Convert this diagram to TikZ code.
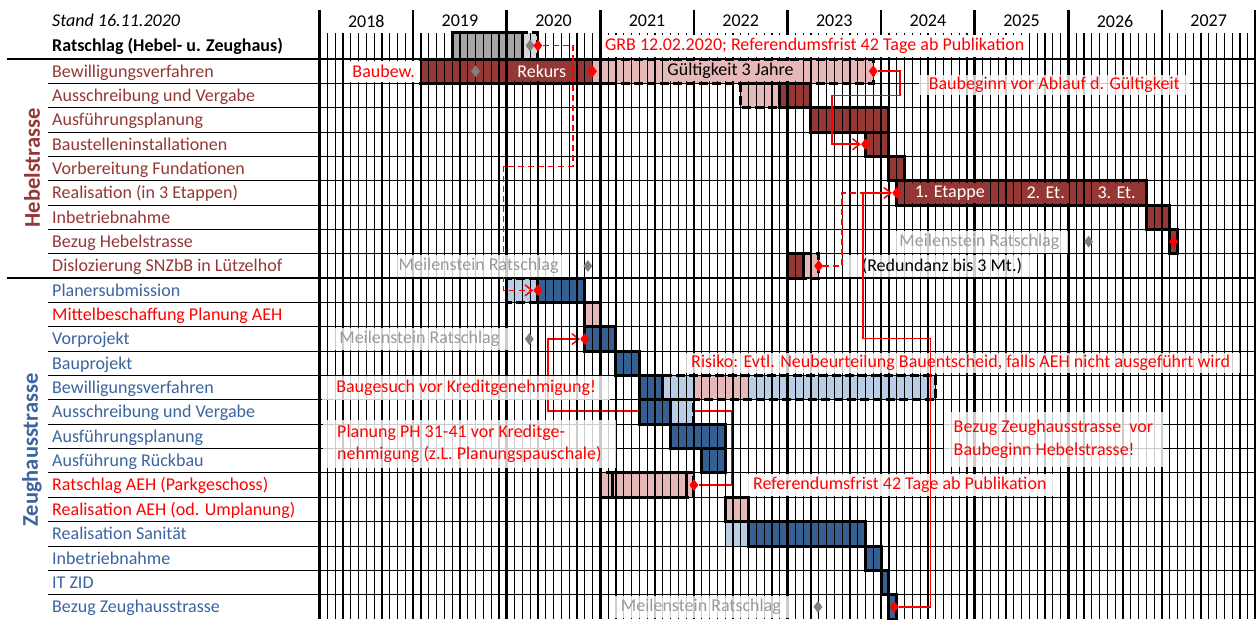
\documentclass[tikz,border=0pt]{standalone}
\usepackage{fontspec}
\setmainfont{Carlito}
\usetikzlibrary{shapes.geometric,arrows.meta}
\pgfdeclarelayer{back}
\pgfdeclarelayer{under}
\pgfdeclarelayer{top}
\pgfsetlayers{back,under,main,top}
\definecolor{dred}{HTML}{953735}
\definecolor{pnk}{HTML}{E6B9B8}
\definecolor{dblue}{HTML}{376092}
\definecolor{tblue}{HTML}{3B64A0}
\definecolor{lblue}{HTML}{B9CDE5}
\definecolor{hgray}{HTML}{A6A6A6}
\definecolor{lgray}{HTML}{D9D9D9}
\definecolor{mgray}{HTML}{9A9A9A}
\definecolor{dgray}{HTML}{808080}
\tikzset{
  every node/.style={font=\fontsize{18}{22}\selectfont, inner sep=0pt},
  fr/.style={draw=black, line width=3pt},
  dfr/.style={draw=black, line width=3pt, dash pattern=on 9pt off 4pt},
  rdia/.style={diamond, fill=red, minimum width=9pt, minimum height=12pt},
  gdia/.style={diamond, fill=dgray, minimum width=9pt, minimum height=12pt},
  conn/.style={draw=red, line width=1.5pt},
  dconn/.style={draw=red, line width=1.5pt, dash pattern=on 6pt off 4pt},
  arr/.style={-{Straight Barb[length=7pt,width=11pt]}},
  note/.style={fill=white, fill opacity=0.8, text opacity=1, text=red, inner xsep=10pt, inner ysep=2pt},
  mile/.style={fill=white, fill opacity=0.8, text opacity=1, text=mgray, inner xsep=9pt, minimum height=22pt},
  onbar/.style={text=white, fill=dred, inner xsep=4pt, minimum height=20pt},
  lab/.style={anchor=base west},
  grp/.style={font=\fontsize{22.5}{26}\selectfont\bfseries, rotate=90},
}
\begin{document}
\begin{tikzpicture}[x=1pt,y=-1pt]
\useasboundingbox (0,0) rectangle (1256,619);
\begin{pgfonlayer}{back}
\fill[white] (0,0) rectangle (1256,619);
\end{pgfonlayer}
% header texts
\node[anchor=base west, font=\fontsize{18}{22}\selectfont\itshape] (stand) at (52,26.5) {Stand 16.11.2020};
\node[anchor=base west, font=\fontsize{18}{22}\selectfont\bfseries] (ratsch) at (52,51) {Ratschlag (Hebel- u. Zeughaus)};
% group labels
\node[grp, text=dred] (gH) at (32,168) {Hebelstrasse};
\node[grp, text=tblue] (gZ) at (32,450) {Zeughausstrasse};
% row labels
\foreach \t/\c [count=\i from 0] in {Bewilligungsverfahren/dred, Ausschreibung und Vergabe/dred, Ausführungsplanung/dred, Baustelleninstallationen/dred, Vorbereitung Fundationen/dred, Realisation (in 3 Etappen)/dred, Inbetriebnahme/dred, Bezug Hebelstrasse/dred, Dislozierung SNZbB in Lützelhof/dred, Planersubmission/tblue, Mittelbeschaffung Planung AEH/red, Vorprojekt/tblue, Bauprojekt/tblue, Bewilligungsverfahren/tblue, Ausschreibung und Vergabe/tblue, Ausführungsplanung/tblue, Ausführung Rückbau/tblue, Ratschlag AEH (Parkgeschoss)/red, Realisation AEH (od. Umplanung)/red, Realisation Sanität/tblue, Inbetriebnahme/tblue, IT ZID/tblue, Bezug Zeughausstrasse/tblue}
  \node[lab, text=\c] (L\i) at (52,{59+24.35*\i+18}) {\t};

\begin{scope}[xshift=319.5pt, yshift=-59pt, x=7.8pt, y=-24.35pt]
% ---------- diamonds (top layer)
\begin{pgfonlayer}{top}
\node[gdia] (hdg) at (27,-0.55) {};
\node[rdia] (hdr) at (28,-0.55) {};
\node[gdia] (g0) at (20,0.5) {};
\node[rdia] (d0a) at (35,0.5) {};
\node[rdia] (d0b) at (71,0.5) {};
\node[rdia] (d3) at (70,3.5) {};
\node[rdia] (d5) at (74,5.5) {};
\node[rdia] (d7) at (109.5,7.5) {};
\node[gdia] (g7) at (98.6,7.5) {};
\node[rdia] (d8) at (64,8.5) {};
\node[gdia] (g8) at (34.4,8.5) {};
\node[rdia] (d9) at (28,9.5) {};
\node[rdia] (d11) at (34,11.5) {};
\node[gdia] (g11) at (26.9,11.5) {};
\node[rdia] (d17) at (48,17.5) {};
\node[rdia] (d22) at (73.7,22.5) {};
\node[gdia] (g22) at (63.9,22.5) {};
\end{pgfonlayer}
% ---------- connector under the bars
\coordinate (k4a) at (52.8,17.5);
\coordinate (k4b) at (52.8,14.46);
\coordinate (k4c) at (29.3,14.46);
\coordinate (k4d) at (29.3,11.5);
\begin{pgfonlayer}{under}
\draw[conn, arr] (d17) -- (k4a) -- (k4b) -- (k4c) -- (k4d) -- (d11);
\end{pgfonlayer}
% ---------- bar fills
\fill[hgray] (17,-1.07) rectangle (26,0);
\fill[lgray] (26,-1.07) rectangle (28,0);
\fill[dred] (13,0) rectangle (35,1);
\fill[pnk] (35,0) rectangle (71,1);
\fill[pnk] (54,1) rectangle (59,2);
\fill[dred] (59,1) rectangle (63,2);
\fill[dred] (63,2) rectangle (73,3);
\fill[dred] (70,3) rectangle (73,4);
\fill[dred] (73,4) rectangle (75,5);
\fill[dred] (74,5) rectangle (106,6);
\fill[dred] (106,6) rectangle (109,7);
\fill[dred] (109,7) rectangle (110,8);
\fill[dred] (60,8) rectangle (62,9);
\fill[pnk] (62,8) rectangle (64,9);
\fill[lblue] (24,9) rectangle (28,10);
\fill[dblue] (28,9) rectangle (34,10);
\fill[pnk] (34,10) rectangle (36,11);
\fill[dblue] (34,11) rectangle (38,12);
\fill[dblue] (38,12) rectangle (41,13);
\fill[dblue] (41,13) rectangle (44,14);
\fill[lblue] (44,13) rectangle (48,14);
\fill[pnk] (48,13) rectangle (55,14);
\fill[lblue] (55,13) rectangle (79,14);
\fill[dblue] (41,14) rectangle (45,15);
\fill[lblue] (45,14) rectangle (48,15);
\fill[dblue] (45,15) rectangle (52,16);
\fill[dblue] (49,16) rectangle (52,17);
\fill[pnk] (36,17) rectangle (48,18);
\fill[pnk] (52,18) rectangle (55,19);
\fill[lblue] (52,19) rectangle (55,20);
\fill[dblue] (55,19) rectangle (70,20);
\fill[dblue] (70,20) rectangle (72,21);
\fill[dblue] (72,21) rectangle (73,22);
\fill[dblue] (73,22) rectangle (74,23);
% ---------- grid
\foreach \k in {1,...,8} \draw[line width=1pt] (-34.8,\k) -- (120,\k);
\foreach \k in {10,...,22} \draw[line width=1pt] (-34.8,\k) -- (120,\k);
\draw[line width=2.5pt] (-40.06,0) -- (120,0);
\draw[line width=2.5pt] (-40.06,9) -- (120,9);
\foreach \m in {0,...,120} \draw[line width=1.2pt] (\m,-1.07) -- (\m,23);
\foreach \y in {0,...,10} \draw[line width=2.5pt] ({12*\y},-2.012) -- ({12*\y},23);
\foreach \y [count=\i from 0] in {2018,...,2027} \node (Y\y) at ({12*\i+6},-1.56) {\y};
% ---------- frames
\draw[fr] (17,-1.07) rectangle (26,0);
\draw[dfr] (26,-1.07) rectangle (28,0);
\draw[dfr] (37,0) -- (71,0) -- (71,1) -- (37,1);
\draw[fr] (37,0) -- (13,0) -- (13,1) -- (37,1);
\draw[dfr] (59,1) -- (54,1) -- (54,2) -- (59,2);
\draw[fr] (59,1) rectangle (63,2);
\draw[fr] (63,2) rectangle (73,3);
\draw[fr] (70,3) rectangle (73,4);
\draw[fr] (73,4) rectangle (75,5);
\draw[fr] (74,5) rectangle (106,6);
\draw[fr] (106,6) rectangle (109,7);
\draw[fr] (109,7) rectangle (110,8);
\draw[fr] (60,8) rectangle (62,9);
\draw[dfr] (62,8) -- (64,8) -- (64,9) -- (62,9);
\draw[dfr] (28,9) -- (24,9) -- (24,10) -- (28,10);
\draw[fr] (28,9) rectangle (34,10);
\draw[fr] (34,10) rectangle (36,11);
\draw[fr] (34,11) rectangle (38,12);
\draw[fr] (38,12) rectangle (41,13);
\draw[fr] (41,13) rectangle (44,14);
\draw[dfr] (44,13) -- (79,13) -- (79,14) -- (44,14);
\draw[fr] (41,14) rectangle (45,15);
\draw[dfr] (45,14) -- (48,14) -- (48,15) -- (45,15);
\draw[fr] (45,15) rectangle (52,16);
\draw[fr] (49,16) rectangle (52,17);
\draw[dfr] (36,17) rectangle (48,18);
\draw[fr] (37.5,17) rectangle (47,18);
\draw[fr] (52,18) rectangle (55,19);
\draw[fr] (55,19) rectangle (70,20);
\draw[fr] (70,20) rectangle (72,21);
\draw[fr] (72,21) rectangle (73,22);
\draw[fr] (73,22) rectangle (74,23);
% ---------- dashed connector from Ratschlag to Planersubmission
\coordinate (k1a) at (32.5,-0.55);
\coordinate (k1b) at (32.5,4.42);
\coordinate (k1c) at (23.6,4.42);
\coordinate (k1d) at (23.6,9.5);
\draw[dconn, arr] (hdr) -- (k1a) -- (k1b) -- (k1c) -- (k1d) -- (d9);
% ---------- texts on the chart
\node[fill=white, text=red, inner xsep=5pt, minimum height=21pt, anchor=east] (tBaubew) at (12.9,0.5) {Baubew.};
\node[onbar] (tRek) at (28.5,0.5) {Rekurs};
\node[fill=pnk, text=black, inner xsep=4pt, minimum height=20pt] (tGue) at (52.7,0.5) {Gültigkeit 3 Jahre};
\node[fill=white, text=red, anchor=west, inner xsep=3pt, minimum height=22pt] (tGRB) at (36.2,-0.55) {GRB 12.02.2020; Referendumsfrist 42 Tage ab Publikation};
\node[note, minimum height=18pt] (tBau) at (94.2,1.07) {Baubeginn vor Ablauf d. Gültigkeit};
\node[onbar] (tE1) at (80.8,5.5) {1. Etappe};
\node[onbar] (tE2) at (93.1,5.5) {2. Et.};
\node[onbar] (tE3) at (102.2,5.5) {3. Et.};
\node[mile] (m7) at (84.6,7.5) {Meilenstein Ratschlag};
\node[mile] (m8) at (20.4,8.5) {Meilenstein Ratschlag};
\node[mile] (m11) at (12.8,11.5) {Meilenstein Ratschlag};
\node[mile] (m22) at (48.9,22.5) {Meilenstein Ratschlag};
\node[note, text=black, minimum height=22pt, inner xsep=14pt] (tRed) at (79.8,8.5) {(Redundanz bis 3 Mt.)};
\node[note, minimum height=20pt] (tRis) at (82.2,12.48) {Risiko: Evtl. Neubeurteilung Bauentscheid, falls AEH nicht ausgeführt wird};
\node[note, minimum height=24pt, inner xsep=14pt] (tBg) at (18.8,13.5) {Baugesuch vor Kreditgenehmigung!};
\node[note, align=left, anchor=west, inner xsep=14pt, inner ysep=5pt, font=\fontsize{18}{22.5}\selectfont] (tPl) at (0.45,15.8) {Planung PH 31-41 vor Kreditge-\\nehmigung (z.L. Planungspauschale)};
\node[note, fill opacity=0.9, minimum height=22pt] (tRef) at (74.4,17.5) {Referendumsfrist 42 Tage ab Publikation};
\node[note, align=left, anchor=west, inner xsep=10pt, inner ysep=8pt, font=\fontsize{18}{23}\selectfont] (tBZ) at (80.0,15.62) {Bezug Zeughausstrasse\ \ vor\\Baubeginn Hebelstrasse!};
% ---------- solid connectors on top
\coordinate (k2a) at (74.4,0.5);
\coordinate (k2b) at (74.4,1.5);
\coordinate (k2c) at (65.7,1.5);
\coordinate (k2d) at (65.7,3.5);
\draw[conn, arr] (d0b) -- (k2a) -- (k2b) -- (k2c) -- (k2d) -- (d3);
\coordinate (k3a) at (67,8.5);
\coordinate (k3b) at (67,5.5);
\coordinate (k3c) at (69.7,5.5);
\coordinate (k3d) at (78.3,22.5);
\coordinate (k3e) at (78.3,11.47);
\coordinate (k3f) at (69.7,11.47);
\draw[dconn] (d8) -- (k3a) -- (k3b) -- (k3c);
\draw[conn, arr] (d22) -- (k3d) -- (k3e) -- (k3f) -- (k3c) -- (d5);
\end{scope}
\end{tikzpicture}
\end{document}
